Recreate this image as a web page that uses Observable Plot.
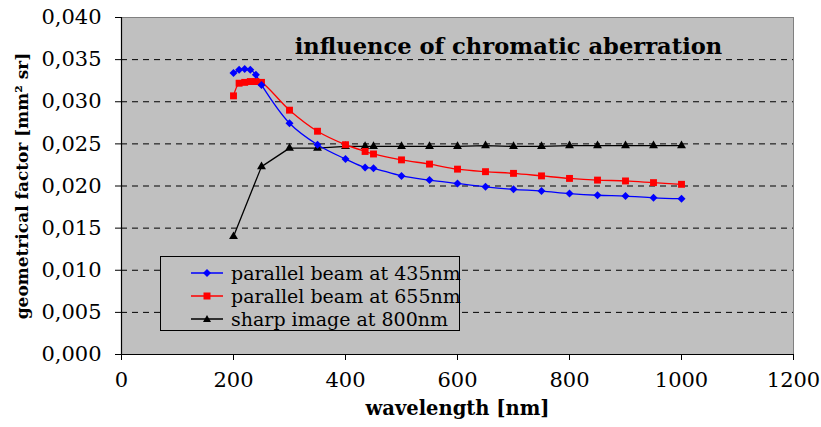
<!DOCTYPE html>
<html><head><meta charset="utf-8">
<script src="https://cdn.jsdelivr.net/npm/d3@7"></script>
<script src="https://cdn.jsdelivr.net/npm/@observablehq/plot@0.6"></script>
<style>
body{margin:0;background:#fff}
#wrap{position:relative;width:821px;height:427px}
#legend{position:absolute;left:160px;top:256px;width:300px;height:75px;border:1px solid #000;background:#c0c0c0;box-sizing:border-box;font-family:"DejaVu Serif";font-size:19px;color:#000}
#legend .row{position:absolute;left:30px;height:22px;display:flex;align-items:center;white-space:nowrap}
#legend svg{margin-right:8px}
</style>
</head><body><div id="wrap"><div id="legend"></div></div>
<script>
// wavelengths [nm]
const wl = [200,210,220,230,240,250,300,350,400,435,450,500,550,600,650,700,750,800,850,900,950,1000];
const blue435 = [0.0334,0.0338,0.0339,0.0338,0.0332,0.0320,0.02745,0.0249,0.0232,0.0222,0.0221,0.0212,0.0207,0.0203,0.0199,0.0196,0.0194,0.0191,0.0189,0.0188,0.0186,0.0185];
const red655 = [0.0307,0.0322,0.0323,0.0324,0.0324,0.0323,0.0290,0.0265,0.0249,0.0241,0.0238,0.0231,0.0226,0.0220,0.0217,0.0215,0.0212,0.0209,0.0207,0.0206,0.0204,0.0202];
const wlSharp = [200,250,300,350,400,435,450,500,550,600,650,700,750,800,850,900,950,1000];
const sharp800 = [0.0140,0.0223,0.0245,0.0245,0.0247,0.0247,0.0247,0.0247,0.0247,0.0247,0.0248,0.0247,0.0247,0.0248,0.0248,0.0248,0.0248,0.0248];
const seriesNames = ["parallel beam at 435nm","parallel beam at 655nm","sharp image at 800nm"];
const seriesColors = ["#0000ff","#ff0000","#000000"];
const seriesSymbols = ["diamond2","square","triangle"];
const xTicks = [0,200,400,600,800,1000,1200];
const yTicks = [0,0.005,0.010,0.015,0.020,0.025,0.030,0.035,0.040];
const gridTicks = [0.005,0.010,0.015,0.020,0.025,0.030,0.035];
const title = "influence of chromatic aberration";
const xLabel = "wavelength [nm]";
const yLabel = "geometrical factor [mm² sr]";

const blue = wl.map((x,i)=>({x, y: blue435[i]}));
const red = wl.map((x,i)=>({x, y: red655[i]}));
const black = wlSharp.map((x,i)=>({x, y: sharp800[i]}));
const fmtY = d => d3.format(".3f")(d).replace(".", ",");
const fmtX = d => String(d);

const chart = Plot.plot({
  width: 821, height: 427,
  marginLeft: 121, marginRight: 28, marginTop: 17, marginBottom: 73,
  style: {fontFamily: "DejaVu Serif", background: "transparent", overflow: "visible"},
  x: {domain: [0,1200]},
  y: {domain: [0,0.04]},
  marks: [
    Plot.frame({fill: "#c0c0c0", stroke: null}),
    Plot.gridY(gridTicks, {stroke: "#000", strokeOpacity: 1, strokeDasharray: "6,5"}),
    Plot.frame({stroke: "#808080", strokeWidth: 1}),
    Plot.ruleX([0], {stroke: "#000", strokeWidth: 1.2}),
    Plot.ruleY([0], {stroke: "#000", strokeWidth: 1.2}),
    Plot.axisX(xTicks, {tickSize: 6, tickPadding: 12, fontSize: 21, tickFormat: fmtX, label: null, stroke: "#000"}),
    Plot.axisY(yTicks, {tickSize: 6, tickPadding: 14, fontSize: 21, tickFormat: fmtY, label: null, stroke: "#000"}),
    Plot.line(black, {x: "x", y: "y", stroke: seriesColors[2], strokeWidth: 1.3}),
    Plot.line(red, {x: "x", y: "y", stroke: seriesColors[1], strokeWidth: 1.3, curve: "catmull-rom"}),
    Plot.line(blue, {x: "x", y: "y", stroke: seriesColors[0], strokeWidth: 1.3, curve: "catmull-rom"}),
    Plot.dot(black, {x: "x", y: "y", symbol: seriesSymbols[2], fill: seriesColors[2], r: 3.3}),
    Plot.dot(red, {x: "x", y: "y", symbol: seriesSymbols[1], fill: seriesColors[1], r: 3.9}),
    Plot.dot(blue, {x: "x", y: "y", symbol: seriesSymbols[0], fill: seriesColors[0], r: 3.6}),
    Plot.text([title], {frameAnchor: "top", dx: 51, dy: 20, fontSize: 22.6, fontWeight: "bold", lineAnchor: "top"}),
    Plot.text([xLabel], {frameAnchor: "bottom", dy: 47, fontSize: 19.5, fontWeight: "bold", lineAnchor: "top"}),
    Plot.text([yLabel], {frameAnchor: "left", dx: -99, rotate: -90, textAnchor: "middle", fontSize: 17, fontWeight: "bold"})
  ]
});
document.getElementById("wrap").prepend(chart);

// legend
const leg = document.getElementById("legend");
seriesNames.forEach((name, i) => {
  const row = document.createElement("div");
  row.className = "row";
  row.style.top = (5 + i*23) + "px";
  const sym = i===0 ? '<path d="M16,7 L20,11 L16,15 L12,11 Z" fill="#0000ff"/>'
            : i===1 ? '<rect x="12.5" y="7.5" width="7" height="7" fill="#ff0000"/>'
            : '<path d="M16,7 L20,14 L12,14 Z" fill="#000"/>';
  row.innerHTML = `<svg width="32" height="22"><line x1="0" x2="32" y1="11" y2="11" stroke="${seriesColors[i]}" stroke-width="1.5"/>${sym}</svg><span>${name}</span>`;
  leg.appendChild(row);
});
</script>
</body></html>
